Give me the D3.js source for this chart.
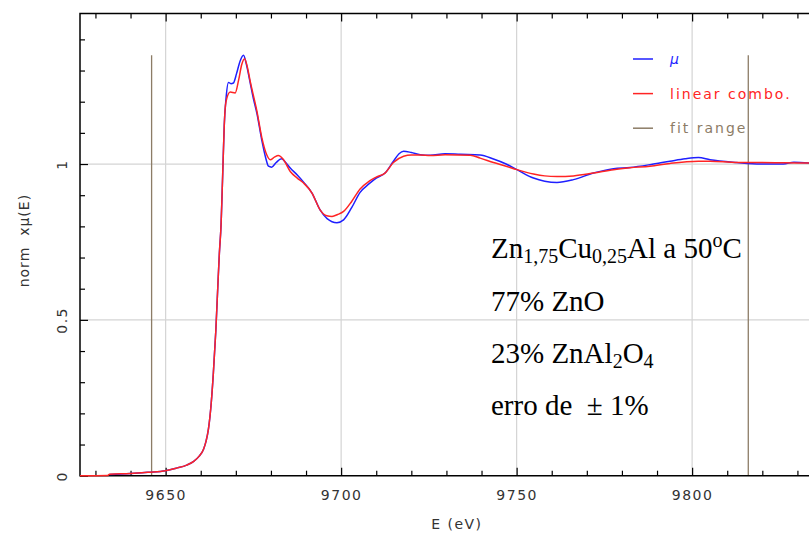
<!DOCTYPE html>
<html><head><meta charset="utf-8">
<script src="https://cdn.jsdelivr.net/npm/d3@7/dist/d3.min.js"></script>
<style>
html,body{margin:0;padding:0;background:#fff;}
svg{display:block;}
.tick text{font-family:"DejaVu Sans",sans-serif;}
</style></head>
<body>
<svg id="chart" width="809" height="536"></svg>
<script>
// ---- data ----
const muE = [9634,9640,9645,9650,9653,9656,9658,9659.5,9660.8,9661.5,9662.2,9663,9663.6,9664.3,9664.9,9665.3,9665.8,9666.1,9666.4,9666.7,9667.2,9667.9,9668.6,9669.3,9670.2,9671.2,9672.2,9673,9674.1,9675,9676,9677.4,9678.5,9679.3,9680.2,9681.5,9683,9684.2,9685.5,9687.5,9689.3,9691.7,9694,9696,9698.8,9700.7,9703,9705.4,9708,9710,9712.5,9714.9,9716.5,9717.8,9720,9722.5,9725.4,9729.6,9734,9739.6,9743.4,9747,9750.1,9754.8,9758,9761.5,9766.2,9771.9,9777.6,9782.3,9788,9793.7,9798,9801.8,9805.1,9812.7,9819.4,9826,9829,9833.5];
const muV = [0.004,0.007,0.011,0.016,0.024,0.034,0.046,0.062,0.085,0.11,0.15,0.235,0.33,0.466,0.616,0.712,0.808,0.91,1.02,1.124,1.21,1.262,1.258,1.26,1.29,1.33,1.349,1.32,1.26,1.21,1.163,1.076,1.02,0.993,0.99,1.005,1.017,1.005,0.987,0.965,0.942,0.907,0.853,0.825,0.812,0.821,0.86,0.909,0.937,0.955,0.971,1.009,1.033,1.041,1.037,1.03,1.028,1.033,1.031,1.029,1.016,1.0,0.982,0.955,0.945,0.941,0.95,0.971,0.985,0.989,0.998,1.009,1.017,1.021,1.014,1.005,1.0,1.0,1.006,1.003];
const lcE = [9625,9633.5,9634,9640,9645,9650,9653,9656,9658,9659.5,9660.8,9661.5,9662.2,9663,9663.6,9664.3,9664.9,9665.3,9665.8,9666.1,9666.4,9666.7,9667.2,9668.4,9669.8,9670.8,9671.7,9672.5,9673.3,9674.1,9676,9677.4,9678.8,9679.8,9681,9682.1,9683.5,9685.5,9687.5,9689.3,9691.7,9694,9695.9,9697.4,9699,9700.7,9703,9705.4,9708,9710,9712.5,9714.9,9717.8,9720,9722.5,9725.4,9729.6,9736.8,9739.6,9743.4,9747,9750.1,9754.8,9758,9761.5,9766.2,9771.9,9777.6,9782.3,9788,9793.7,9801.8,9805.1,9812.7,9819.4,9826,9833.5];
const lcV = [0,0.001,0.005,0.007,0.011,0.016,0.024,0.034,0.046,0.062,0.085,0.11,0.15,0.235,0.33,0.466,0.616,0.712,0.808,0.91,1.02,1.124,1.2,1.231,1.228,1.27,1.32,1.338,1.31,1.265,1.17,1.085,1.03,1.014,1.022,1.027,1.015,0.976,0.955,0.939,0.907,0.853,0.834,0.832,0.838,0.848,0.88,0.92,0.945,0.958,0.971,1.005,1.025,1.029,1.029,1.027,1.03,1.028,1.019,1.005,0.993,0.982,0.968,0.962,0.96,0.962,0.971,0.982,0.988,0.993,1.002,1.009,1.009,1.005,1.005,1.004,1.003];
const fitRange = [9646, 9816];
const fitTop = 1.349;
const xDomain = [9625.6, 9833.3];
const yDomain = [0, 1.483];
const xMajor = [9650, 9700, 9750, 9800];
const yMajor = [0, 0.5, 1];
const yMajorLabels = ["0", "0.5", "1"];
const legendLabels = ["\u03bc", "linear combo.", "fit range"];

// ---- layout ----
const svg = d3.select("#chart");
const L = 80, R = 809, T = 13.5, B = 475.7;
const x = d3.scaleLinear().domain(xDomain).range([L, R]);
const y = d3.scaleLinear().domain(yDomain).range([B, T]);
const BLUE = "#1f1fff", RED = "#ff2424", BROWN = "#8c7c66", GRID = "#d4d4d4";

svg.append("defs").append("clipPath").attr("id","clip")
  .append("rect").attr("x",L).attr("y",T).attr("width",R-L+5).attr("height",B-T+3);

// grid
svg.append("g").selectAll("line").data(xMajor).join("line")
  .attr("x1",d=>x(d)).attr("x2",d=>x(d)).attr("y1",T).attr("y2",B)
  .attr("stroke",GRID).attr("stroke-width",1.2);
svg.append("g").selectAll("line").data(yMajor.filter(d=>d>0)).join("line")
  .attr("x1",L).attr("x2",R).attr("y1",d=>y(d)).attr("y2",d=>y(d))
  .attr("stroke",GRID).attr("stroke-width",1.2);

// fit range lines
svg.append("g").selectAll("line").data(fitRange).join("line")
  .attr("x1",d=>x(d)).attr("x2",d=>x(d)).attr("y1",y(fitTop)).attr("y2",B)
  .attr("stroke",BROWN).attr("stroke-width",1.3);

// axes
const xMinor = d3.range(9630, 9835, 10).filter(d=>!xMajor.includes(d));
const yMinor = d3.range(0.1, 1.49, 0.1).map(d=>+d.toFixed(1)).filter(d=>!yMajor.includes(d));

function styleAxis(g){ g.select(".domain").remove(); g.selectAll(".tick line").attr("stroke","#000").attr("stroke-width",1.2); }

svg.append("g").attr("transform",`translate(0,${B})`)
  .call(d3.axisBottom(x).tickValues(xMajor).tickSize(-8).tickPadding(14).tickFormat(d3.format("d")))
  .call(styleAxis)
  .call(g=>g.selectAll("text").attr("font-size",14).attr("fill","#333").attr("letter-spacing","1.5px"));
svg.append("g").attr("transform",`translate(0,${B})`)
  .call(d3.axisBottom(x).tickValues(xMinor).tickSize(-5).tickFormat(""))
  .call(styleAxis);
svg.append("g").attr("transform",`translate(0,${T})`)
  .call(d3.axisTop(x).tickValues(xMajor).tickSize(-8).tickFormat(""))
  .call(styleAxis);
svg.append("g").attr("transform",`translate(0,${T})`)
  .call(d3.axisTop(x).tickValues(xMinor).tickSize(-5).tickFormat(""))
  .call(styleAxis);
svg.append("g").attr("transform",`translate(${L},0)`)
  .call(d3.axisLeft(y).tickValues(yMajor).tickSize(-8).tickFormat((d,i)=>yMajorLabels[i]))
  .call(styleAxis)
  .call(g=>g.selectAll("text").attr("font-size",14).attr("fill","#333").attr("letter-spacing","1.5px")
     .attr("transform","rotate(-90)").attr("x",0).attr("y",-13).attr("dy",0).attr("text-anchor","middle"));
svg.append("g").attr("transform",`translate(${L},0)`)
  .call(d3.axisLeft(y).tickValues(yMinor).tickSize(-5).tickFormat(""))
  .call(styleAxis);

// frame lines
svg.append("path").attr("d",`M${R},${T}H${L}V${B}H${R}`).attr("fill","none").attr("stroke","#000").attr("stroke-width",1.5);

// curves (drawn above the frame, as in the reference)
const line = d3.line().x(d=>x(d[0])).y(d=>y(d[1])).curve(d3.curveMonotoneX);
const plot = svg.append("g").attr("clip-path","url(#clip)");
plot.append("path").datum(muE.map((e,i)=>[e,muV[i]])).attr("d",line)
  .attr("fill","none").attr("stroke",BLUE).attr("stroke-width",1.5);
plot.append("path").datum(lcE.map((e,i)=>[e,lcV[i]])).attr("d",line)
  .attr("fill","none").attr("stroke",RED).attr("stroke-width",1.5);

// axis titles
svg.append("text").attr("x",(x(9650)+x(9800))/2+28).attr("y",529).attr("text-anchor","middle")
  .attr("font-family","DejaVu Sans").attr("font-size",14).attr("letter-spacing","1.5px").attr("fill","#333").text("E (eV)");
svg.append("text").attr("transform",`translate(29,${(T+B)/2 - 4}) rotate(-90)`).attr("text-anchor","middle")
  .attr("font-family","DejaVu Sans").attr("font-size",14).attr("letter-spacing","1px").attr("fill","#333").text("norm\u00a0\u00a0x\u03bc(E)");

// legend
const legColors = [BLUE, RED, BROWN];
const lg = svg.append("g");
legendLabels.forEach((t,i)=>{
  const yy = 59 + i*34.6;
  lg.append("line").attr("x1",633).attr("x2",653).attr("y1",yy).attr("y2",yy).attr("stroke",legColors[i]).attr("stroke-width",1.5);
  lg.append("text").attr("x",670).attr("y",yy+5).attr("font-family","DejaVu Sans").attr("font-size",14)
    .attr("letter-spacing","2px").attr("fill",legColors[i]).attr("font-style",i===0?"italic":"normal").text(t);
});

// annotation
const ann = svg.append("g").attr("font-family","Liberation Serif, Times New Roman, serif").attr("font-size",29).attr("fill","#000");
const annX = 491;
function richLine(yy, parts){
  const t = ann.append("text").attr("x",annX).attr("y",yy);
  parts.forEach(p=>{
    const s = t.append("tspan").text(p[0]);
    if(p[1]==="sub"){ s.attr("font-size",20).attr("dy",5); }
    else if(p[1]==="sup"){ s.attr("font-size",20).attr("dy",-11); }
    if(p[2]!==undefined) s.attr("dy",p[2]);
  });
}
richLine(258,[["Zn"],["1,75","sub"],["Cu","n",-5],["0,25","sub"],["Al a 50","n",-5],["o","sup"],["C","n",11]]);
richLine(311,[["77% ZnO"]]);
richLine(363,[["23% ZnAl"],["2","sub"],["O","n",-5],["4","sub"]]);
richLine(415,[["erro de\u00a0\u00a0\u00b1 1%"]]);
</script>
</body></html>
